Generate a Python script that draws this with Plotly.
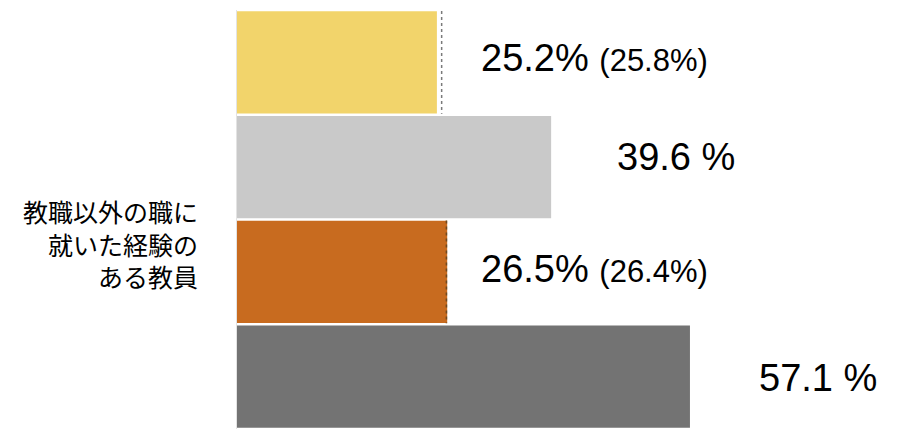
import plotly.graph_objects as go

# data
categories = ["区分1", "区分2", "区分3", "区分4"]
values = [25.2, 39.6, 26.5, 57.1]
previous = [25.8, None, 26.4, None]
colors = ["#F2D46B", "#C9C9C9", "#C86B1F", "#737373"]
axis_title = ["教職以外の職に", "就いた経験の", "ある教員"]

# the page body adds an 8px margin, so margins are set to compensate
ML, MR, MT, MB = 229, 8, 2, 18
W, H = 900, 439

fig = go.Figure()

fig.add_trace(go.Bar(
    y=categories, x=values, orientation="h",
    marker=dict(color=colors, line=dict(width=0)),
    hoverinfo="skip", showlegend=False,
))

# dotted marks for the previous survey values
for i, p in enumerate(previous):
    if p is None:
        continue
    fig.add_shape(type="line", xref="x", yref="y",
                  x0=p, x1=p, y0=i - 0.49, y1=i + 0.49,
                  line=dict(color="#7a7a7a" if i == 0 else "#6e4a22", width=1.5, dash="dot"))

# value labels
label_x = [30.5, 47.6, 30.5, 65.6]
label_shift = [4, 10, 3, -1]
for i, v in enumerate(values):
    if previous[i] is not None:
        txt = f"{v}% <span style='font-size:31px'>({previous[i]}%)</span>"
    else:
        txt = f"{v} %"
    fig.add_annotation(x=label_x[i], y=categories[i], xref="x", yref="y",
                       text=txt, showarrow=False, xanchor="left", yanchor="middle",
                       yshift=label_shift[i],
                       font=dict(family="Liberation Sans, Arial", size=38, color="#000000"))

# y axis title, right aligned (pixel anchor -> paper coords)
plot_w, plot_h = W - ML - MR, H - MT - MB
tx, ty = 200 - 8, 243 - 8
fig.add_annotation(x=(tx - ML) / plot_w, y=1 - (ty - MT) / plot_h,
                   xref="paper", yref="paper",
                   text="<br>".join(axis_title), showarrow=False, align="right",
                   xanchor="right", yanchor="middle",
                   font=dict(family="Noto Sans CJK JP", size=25, color="#000000"))

fig.update_layout(
    width=W, height=H,
    margin=dict(l=ML, r=MR, t=MT, b=MB),
    plot_bgcolor="white", paper_bgcolor="white",
    bargap=0.025,
    xaxis=dict(range=[0, 83.58], visible=False, fixedrange=True),
    yaxis=dict(autorange="reversed", showticklabels=False, ticks="",
               showgrid=False, zeroline=False, showline=True,
               linecolor="#e3e3e3", linewidth=1),
)

fig.write_html("out.html")
